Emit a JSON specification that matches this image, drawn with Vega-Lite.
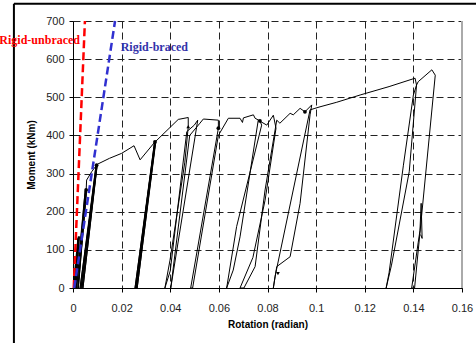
{
  "$schema": "https://vega.github.io/schema/vega-lite/v6.json",
  "width": 389,
  "height": 267,
  "autosize": "none",
  "padding": {"left": 73, "top": 21, "right": 14, "bottom": 55},
  "background": "white",
  "config": {
    "view": {"stroke": null},
    "axis": {
      "labelFont": "Liberation Sans",
      "labelFontSize": 11,
      "labelColor": "#222",
      "titleFont": "Liberation Sans",
      "titleFontSize": 10,
      "titleFontWeight": "bold",
      "titleColor": "#000",
      "domainColor": "#000",
      "domainWidth": 1,
      "tickColor": "#000",
      "tickSize": 4,
      "gridColor": "#222",
      "gridDash": [7, 4],
      "gridWidth": 1,
      "gridOpacity": 1,
      "labelFlush": false,
      "labelExpr": "format(datum.value, '~g')"
    },
    "axisX": {"tickCount": 9, "labelPadding": 10, "titlePadding": 6},
    "axisY": {"tickCount": 8, "labelPadding": 5, "titlePadding": 9}
  },
  "datasets": {
    "curve": [
      {"i": 1, "r": 0.0000, "m": 0}, {"i": 2, "r": 0.0020, "m": 130}, {"i": 3, "r": 0.0004, "m": 0},
      {"i": 4, "r": 0.0022, "m": 135}, {"i": 5, "r": 0.0006, "m": 0}, {"i": 6, "r": 0.0024, "m": 133},
      {"i": 7, "r": 0.0008, "m": 0}, {"i": 8, "r": 0.0023, "m": 130}, {"i": 9, "r": 0.0010, "m": 0},
      {"i": 10, "r": 0.0026, "m": 135}, {"i": 11, "r": 0.0012, "m": 0}, {"i": 12, "r": 0.0050, "m": 255},
      {"i": 13, "r": 0.0015, "m": 0}, {"i": 14, "r": 0.0053, "m": 258}, {"i": 15, "r": 0.0020, "m": 0},
      {"i": 16, "r": 0.0056, "m": 257}, {"i": 17, "r": 0.0022, "m": 0}, {"i": 18, "r": 0.0054, "m": 255},
      {"i": 19, "r": 0.0056, "m": 283}, {"i": 20, "r": 0.0077, "m": 305}, {"i": 21, "r": 0.0097, "m": 322},
      {"i": 22, "r": 0.0029, "m": 0}, {"i": 23, "r": 0.0094, "m": 318}, {"i": 24, "r": 0.0033, "m": 0},
      {"i": 25, "r": 0.0097, "m": 322}, {"i": 26, "r": 0.0037, "m": 0}, {"i": 27, "r": 0.0099, "m": 322},
      {"i": 28, "r": 0.0041, "m": 0}, {"i": 29, "r": 0.0100, "m": 324}, {"i": 30, "r": 0.0102, "m": 325},
      {"i": 31, "r": 0.0150, "m": 340}, {"i": 32, "r": 0.0200, "m": 353}, {"i": 33, "r": 0.0251, "m": 373},
      {"i": 34, "r": 0.0276, "m": 336}, {"i": 35, "r": 0.0337, "m": 383}, {"i": 36, "r": 0.0255, "m": 0},
      {"i": 37, "r": 0.0335, "m": 381}, {"i": 38, "r": 0.0258, "m": 0}, {"i": 39, "r": 0.0338, "m": 384},
      {"i": 40, "r": 0.0261, "m": 0}, {"i": 41, "r": 0.0340, "m": 386}, {"i": 42, "r": 0.0264, "m": 0},
      {"i": 43, "r": 0.0341, "m": 385}, {"i": 44, "r": 0.0433, "m": 442}, {"i": 45, "r": 0.0474, "m": 447},
      {"i": 46, "r": 0.0474, "m": 423}, {"i": 47, "r": 0.0460, "m": 330}, {"i": 48, "r": 0.0399, "m": 73},
      {"i": 49, "r": 0.0378, "m": 0}, {"i": 50, "r": 0.0400, "m": 45}, {"i": 51, "r": 0.0468, "m": 410},
      {"i": 52, "r": 0.0499, "m": 427}, {"i": 53, "r": 0.0513, "m": 440}, {"i": 54, "r": 0.0402, "m": 0},
      {"i": 55, "r": 0.0480, "m": 400}, {"i": 56, "r": 0.0522, "m": 432}, {"i": 57, "r": 0.0536, "m": 443},
      {"i": 58, "r": 0.0598, "m": 440}, {"i": 59, "r": 0.0598, "m": 419}, {"i": 60, "r": 0.0484, "m": 0},
      {"i": 61, "r": 0.0492, "m": 0}, {"i": 62, "r": 0.0598, "m": 400}, {"i": 63, "r": 0.0639, "m": 445},
      {"i": 64, "r": 0.0687, "m": 445}, {"i": 65, "r": 0.0697, "m": 434}, {"i": 66, "r": 0.0701, "m": 446},
      {"i": 67, "r": 0.0742, "m": 454}, {"i": 68, "r": 0.0749, "m": 445}, {"i": 69, "r": 0.0769, "m": 438},
      {"i": 70, "r": 0.0776, "m": 427}, {"i": 71, "r": 0.0673, "m": 161}, {"i": 72, "r": 0.0632, "m": 0},
      {"i": 73, "r": 0.0659, "m": 47}, {"i": 74, "r": 0.0687, "m": 134}, {"i": 75, "r": 0.0762, "m": 440},
      {"i": 76, "r": 0.0797, "m": 427}, {"i": 77, "r": 0.0824, "m": 453}, {"i": 78, "r": 0.0835, "m": 419},
      {"i": 79, "r": 0.0790, "m": 230}, {"i": 80, "r": 0.0740, "m": 80}, {"i": 81, "r": 0.0687, "m": 0},
      {"i": 82, "r": 0.0703, "m": 0}, {"i": 83, "r": 0.0749, "m": 56}, {"i": 84, "r": 0.0790, "m": 257},
      {"i": 85, "r": 0.0838, "m": 440}, {"i": 86, "r": 0.0851, "m": 432}, {"i": 87, "r": 0.0893, "m": 458},
      {"i": 88, "r": 0.0906, "m": 454}, {"i": 89, "r": 0.0934, "m": 471}, {"i": 90, "r": 0.0954, "m": 462},
      {"i": 91, "r": 0.0982, "m": 480}, {"i": 92, "r": 0.0975, "m": 454}, {"i": 93, "r": 0.0934, "m": 222},
      {"i": 94, "r": 0.0893, "m": 82}, {"i": 95, "r": 0.0838, "m": 56}, {"i": 96, "r": 0.0824, "m": 0},
      {"i": 97, "r": 0.0831, "m": 30}, {"i": 98, "r": 0.0975, "m": 467}, {"i": 99, "r": 0.0995, "m": 471},
      {"i": 100, "r": 0.1016, "m": 475}, {"i": 101, "r": 0.1085, "m": 487}, {"i": 102, "r": 0.1181, "m": 506},
      {"i": 103, "r": 0.1300, "m": 528}, {"i": 104, "r": 0.1407, "m": 550}, {"i": 105, "r": 0.1413, "m": 532},
      {"i": 106, "r": 0.1383, "m": 305}, {"i": 107, "r": 0.1310, "m": 60}, {"i": 108, "r": 0.1288, "m": 0},
      {"i": 109, "r": 0.1300, "m": 40}, {"i": 110, "r": 0.1359, "m": 322}, {"i": 111, "r": 0.1400, "m": 506},
      {"i": 112, "r": 0.1413, "m": 532}, {"i": 113, "r": 0.1420, "m": 541}, {"i": 114, "r": 0.1476, "m": 572},
      {"i": 115, "r": 0.1490, "m": 558}, {"i": 116, "r": 0.1405, "m": 0}, {"i": 117, "r": 0.1393, "m": 0},
      {"i": 118, "r": 0.1420, "m": 120}, {"i": 119, "r": 0.1427, "m": 150}, {"i": 120, "r": 0.1432, "m": 222},
      {"i": 121, "r": 0.1436, "m": 130}, {"i": 122, "r": 0.1430, "m": 140}
    ],
    "rigid": [
      {"s": "unbraced", "r": 0.0003, "m": 0}, {"s": "unbraced", "r": 0.0049, "m": 700},
      {"s": "braced", "r": 0.0005, "m": 0}, {"s": "braced", "r": 0.0173, "m": 700}
    ],
    "marks": [
      {"r": 0.0337, "m": 383, "k": "circle"}, {"r": 0.0054, "m": 257, "k": "circle"},
      {"r": 0.0097, "m": 322, "k": "circle"}, {"r": 0.0474, "m": 423, "k": "triangle-up"},
      {"r": 0.0598, "m": 419, "k": "circle"}, {"r": 0.0769, "m": 438, "k": "circle"},
      {"r": 0.0954, "m": 462, "k": "circle"}, {"r": 0.0843, "m": 38, "k": "triangle-down"}
    ],
    "labels": [
      {"t": "Rigid-unbraced", "r": 0.0029, "m": 650, "s": "unbraced"},
      {"t": "Rigid-braced", "r": 0.0196, "m": 632, "s": "braced"}
    ]
  },
  "layer": [
    {
      "data": {"name": "curve"},
      "mark": {"type": "line", "color": "#000", "strokeWidth": 1, "clip": true},
      "encoding": {
        "x": {"field": "r", "type": "quantitative", "scale": {"domain": [0, 0.16], "nice": false},
          "axis": {"title": "Rotation (radian)", "values": [0, 0.02, 0.04, 0.06, 0.08, 0.1, 0.12, 0.14, 0.16]}},
        "y": {"field": "m", "type": "quantitative", "scale": {"domain": [0, 700], "nice": false},
          "axis": {"title": "Moment (kNm)", "values": [0, 100, 200, 300, 400, 500, 600, 700]}},
        "order": {"field": "i", "type": "quantitative"}
      }
    },
    {
      "data": {"values": [{}]},
      "mark": {"type": "rule", "color": "#000", "strokeWidth": 2},
      "encoding": {"x": {"datum": -0.0243, "type": "quantitative"}, "y": {"datum": 745, "type": "quantitative"}, "y2": {"datum": -200}}
    },
    {
      "data": {"values": [{}]},
      "mark": {"type": "rule", "color": "#000", "strokeWidth": 2},
      "encoding": {"x": {"datum": -0.0243, "type": "quantitative"}, "x2": {"datum": 0.2}, "y": {"datum": 745, "type": "quantitative"}}
    },
    {
      "data": {"values": [{}]},
      "mark": {"type": "rule", "color": "#aaa", "strokeWidth": 2},
      "encoding": {"x": {"datum": 0.16, "type": "quantitative"}, "y": {"datum": 0, "type": "quantitative"}, "y2": {"datum": 700}}
    },
    {
      "data": {"name": "rigid"},
      "transform": [{"filter": "datum.s == 'unbraced'"}],
      "mark": {"type": "line", "color": "#ff0000", "strokeWidth": 2.5, "strokeDash": [8, 4]},
      "encoding": {"x": {"field": "r", "type": "quantitative"}, "y": {"field": "m", "type": "quantitative"}}
    },
    {
      "data": {"name": "rigid"},
      "transform": [{"filter": "datum.s == 'braced'"}],
      "mark": {"type": "line", "color": "#3030d0", "strokeWidth": 2.5, "strokeDash": [8, 4]},
      "encoding": {"x": {"field": "r", "type": "quantitative"}, "y": {"field": "m", "type": "quantitative"}}
    },
    {
      "data": {"name": "marks"},
      "mark": {"type": "point", "filled": true, "color": "#000", "size": 14, "opacity": 1},
      "encoding": {"x": {"field": "r", "type": "quantitative"}, "y": {"field": "m", "type": "quantitative"},
        "shape": {"field": "k", "type": "nominal", "scale": null}}
    },
    {
      "data": {"name": "labels"},
      "transform": [{"filter": "datum.s == 'unbraced'"}],
      "mark": {"type": "text", "align": "right", "baseline": "middle", "font": "Liberation Serif", "fontSize": 12, "fontWeight": "bold", "color": "#ff0000"},
      "encoding": {"x": {"field": "r", "type": "quantitative"}, "y": {"field": "m", "type": "quantitative"}, "text": {"field": "t"}}
    },
    {
      "data": {"name": "labels"},
      "transform": [{"filter": "datum.s == 'braced'"}],
      "mark": {"type": "text", "align": "left", "baseline": "middle", "font": "Liberation Serif", "fontSize": 12, "fontWeight": "bold", "color": "#3333aa"},
      "encoding": {"x": {"field": "r", "type": "quantitative"}, "y": {"field": "m", "type": "quantitative"}, "text": {"field": "t"}}
    }
  ]
}
